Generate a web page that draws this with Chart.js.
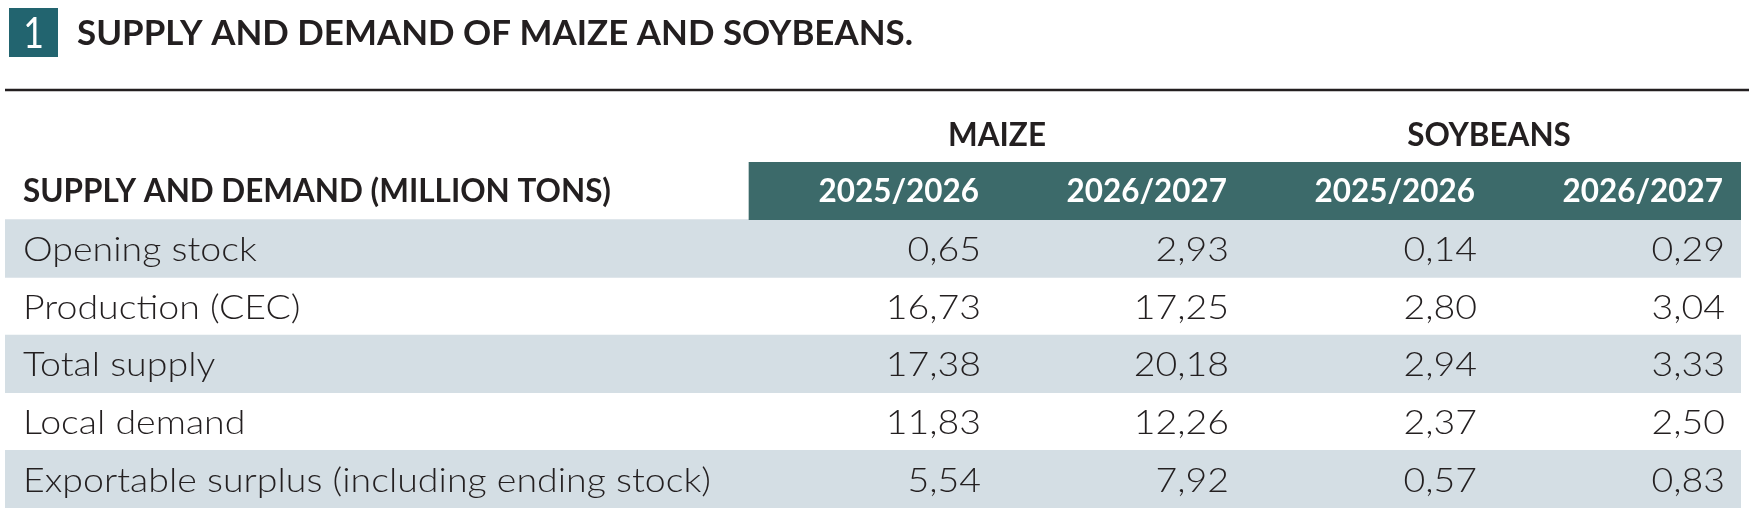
<!DOCTYPE html>
<html>
<head>
<meta charset="utf-8">
<script src="https://cdn.jsdelivr.net/npm/chart.js@4"></script>
<style>
  html, body { margin: 0; padding: 0; background: #fff; }
  canvas { display: block; }
</style>
</head>
<body>
<canvas id="table" width="1749" height="513"></canvas>
<script>
// table text
const tableNumber = "1";
const tableTitle = "SUPPLY AND DEMAND OF MAIZE AND SOYBEANS.";
const cornerHeader = "SUPPLY AND DEMAND (MILLION TONS)";
const crops = ["MAIZE", "SOYBEANS"];
const seasons = ["2025/2026", "2026/2027"];
const rowLabels = [
  "Opening stock",
  "Production (CEC)",
  "Total supply",
  "Local demand",
  "Exportable surplus (including ending stock)",
];

// values in million tons, one array per column
const maize2526 = [0.65, 16.73, 17.38, 11.83, 5.54];
const maize2627 = [2.93, 17.25, 20.18, 12.26, 7.92];
const soy2526 = [0.14, 2.80, 2.94, 2.37, 0.57];
const soy2627 = [0.29, 3.04, 3.33, 2.50, 0.83];
const valueColumns = [maize2526, maize2627, soy2526, soy2627];

// colours
const ink = "#231f20";
const teal = "#22646f";
const headTeal = "#3c6a6a";
const shade = "#d4dee4";

const FONT = "Lato, 'Open Sans', sans-serif";

// row categories: header row first, then the data rows
const categories = [cornerHeader, ...rowLabels];
// label column spans x 0..3, every value column is 1 wide after that
const LABEL_SPAN = 3;
const xMax = LABEL_SPAN + valueColumns.length;

// header band only over the value columns, shading on every other data row
const headerBand = categories.map((c, i) => (i === 0 ? [LABEL_SPAN, xMax] : null));
const rowShade = categories.map((c, i) => (i > 0 && i % 2 === 1 ? [0, xMax] : null));

// comma as decimal mark
const fmt = (v) => v.toFixed(2).replace(".", ",");

// horizontal squeeze so a text at a given font gets a given width
function squeeze(ctx, font, text, width) {
  ctx.font = font;
  return width / ctx.measureText(text).width;
}

// draw text squeezed sideways by sx
function put(ctx, text, x, y, align, sx) {
  ctx.save();
  ctx.translate(x, y);
  ctx.scale(sx, 1);
  ctx.textAlign = align;
  ctx.fillText(text, 0, 0);
  ctx.restore();
}

const tablePlugin = {
  id: "tableText",
  afterDatasetsDraw(chart) {
    const ctx = chart.ctx;
    const x = chart.scales.x;
    const y = chart.scales.y;
    const area = chart.chartArea;

    const titleFont = `bold 35px ${FONT}`;
    const headFont = `bold 32px ${FONT}`;
    const bodyFont = `300 34px ${FONT}`;
    const sxTitle = squeeze(ctx, titleFont, tableTitle, 836);
    const sxHead = squeeze(ctx, headFont, cornerHeader, 588);
    const sxBody = squeeze(ctx, bodyFont, rowLabels[4], 688);

    ctx.save();
    ctx.textBaseline = "alphabetic";

    // title block
    ctx.fillStyle = teal;
    ctx.fillRect(9, 8, 49, 49);
    ctx.fillStyle = "#fff";
    ctx.font = `normal 42px ${FONT}`;
    put(ctx, tableNumber, 33.5, 48, "center", 0.85);

    ctx.fillStyle = ink;
    ctx.font = titleFont;
    put(ctx, tableTitle, 77, 45, "left", sxTitle);

    // rule under the title
    ctx.strokeStyle = ink;
    ctx.lineWidth = 2.5;
    ctx.beginPath();
    ctx.moveTo(5, 90);
    ctx.lineTo(chart.width, 90);
    ctx.stroke();

    // crop names over their two columns
    ctx.font = headFont;
    crops.forEach((crop, k) => {
      const cx = x.getPixelForValue(LABEL_SPAN + 2 * k + 1) - 4 * k;
      put(ctx, crop, cx, area.top - 16, "center", sxHead);
    });

    // header row
    const yHead = y.getPixelForValue(0) + 11.5;
    put(ctx, cornerHeader, x.getPixelForValue(0) + 18, yHead, "left", sxHead);
    ctx.fillStyle = "#fff";
    valueColumns.forEach((col, c) => {
      const season = seasons[c % seasons.length];
      put(ctx, season, x.getPixelForValue(LABEL_SPAN + c + 1) - 18, yHead, "right", sxHead);
    });

    // data rows
    ctx.fillStyle = ink;
    ctx.font = bodyFont;
    rowLabels.forEach((label, r) => {
      const yr = y.getPixelForValue(r + 1) + 12.5;
      put(ctx, label, x.getPixelForValue(0) + 18, yr, "left", sxBody);
      valueColumns.forEach((col, c) => {
        put(ctx, fmt(col[r]), x.getPixelForValue(LABEL_SPAN + c + 1) - 16, yr, "right", sxBody);
      });
    });
    ctx.restore();
  },
};

new Chart(document.getElementById("table"), {
  type: "bar",
  data: {
    labels: categories,
    datasets: [
      { data: headerBand, backgroundColor: headTeal },
      { data: rowShade, backgroundColor: shade },
    ],
  },
  options: {
    indexAxis: "y",
    responsive: false,
    animation: false,
    devicePixelRatio: 1,
    layout: { padding: { top: 162, bottom: 5, left: 5, right: 8 } },
    datasets: {
      bar: { grouped: false, barPercentage: 1, categoryPercentage: 1, borderWidth: 0 },
    },
    scales: {
      x: { type: "linear", min: 0, max: xMax, display: false },
      y: { type: "category", display: false },
    },
    plugins: {
      legend: { display: false },
      tooltip: { enabled: false },
    },
  },
  plugins: [tablePlugin],
});
</script>
</body>
</html>
